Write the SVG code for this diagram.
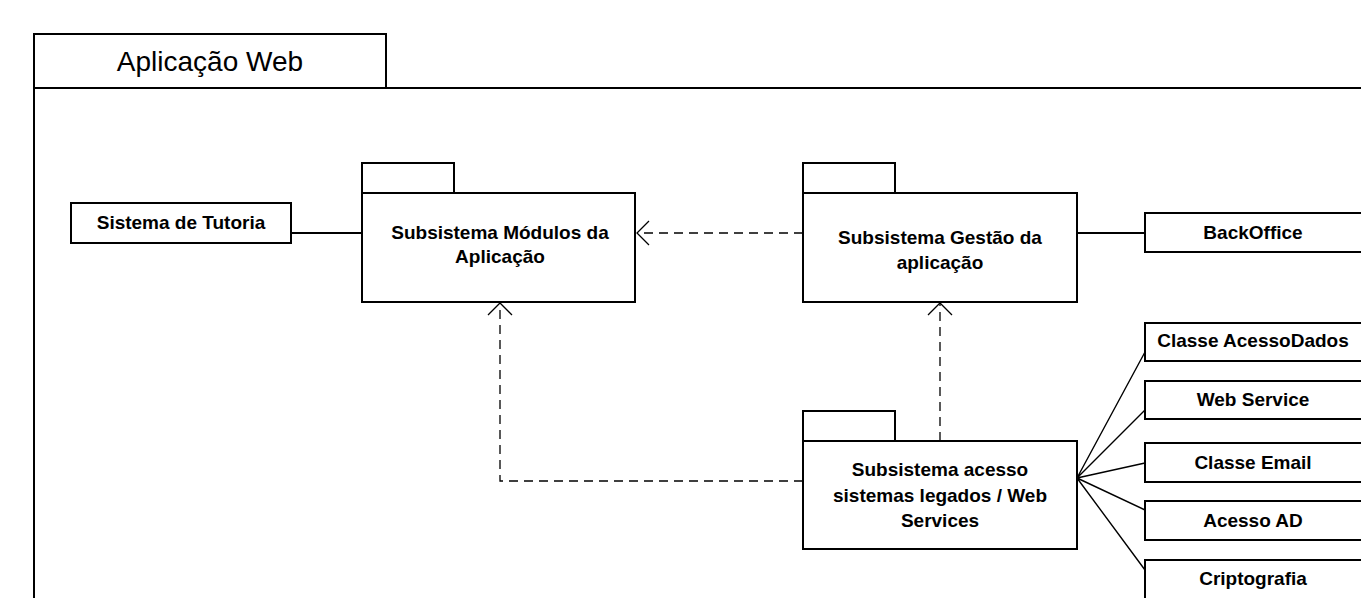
<svg xmlns="http://www.w3.org/2000/svg" width="1361" height="598" viewBox="0 0 1361 598">
<defs>
<style>
.box{fill:#fff;stroke:#000;stroke-width:2}
.t{font-family:"Liberation Sans",Arial,sans-serif;font-weight:bold;font-size:19px;text-anchor:middle;fill:#000}
.title{font-family:"Liberation Sans",Arial,sans-serif;font-size:28px;text-anchor:middle;fill:#000}
.solid{fill:none;stroke:#000;stroke-width:2}
.fan{fill:none;stroke:#000;stroke-width:1.4}
.dash{fill:none;stroke:#000;stroke-width:1.3;stroke-dasharray:9,6}
.head{fill:none;stroke:#000;stroke-width:1.3}
</style>
</defs>
<rect width="1361" height="598" fill="#fff"/>
<g id="frame">
<rect class="box" x="34" y="34" width="352" height="54"/>
<path class="solid" d="M34 88 H1363 M34 88 V600"/>
<text class="title" x="210" y="71">Aplicação Web</text>
</g>
<g id="connectors">
<line class="solid" x1="291" y1="233" x2="362" y2="233"/>
<line class="solid" x1="1077" y1="233" x2="1145" y2="233"/>
<line class="dash" x1="803" y1="233" x2="637" y2="233"/>
<path class="head" d="M649 221 L637 233 L649 245"/>
<line class="dash" x1="940" y1="441" x2="940" y2="303"/>
<path class="head" d="M928 315 L940 303 L952 315"/>
<polyline class="dash" points="803,481 500,481 500,303"/>
<path class="head" d="M488 315 L500 303 L512 315"/>
<path class="fan" d="M1077 478 L1145 352 M1077 478 L1145 410 M1077 478 L1145 463 M1077 478 L1145 510 M1077 478 L1145 570"/>
</g>
<g id="tutoria">
<rect class="box" x="71" y="203" width="220" height="40"/>
<text class="t" x="181" y="229">Sistema de Tutoria</text>
</g>
<g id="modulos">
<rect class="box" x="362" y="163" width="92" height="30"/>
<rect class="box" x="362" y="193" width="273" height="109"/>
<text class="t" x="500" y="239">Subsistema Módulos da</text>
<text class="t" x="500" y="263">Aplicação</text>
</g>
<g id="gestao">
<rect class="box" x="803" y="163" width="92" height="30"/>
<rect class="box" x="803" y="193" width="274" height="109"/>
<text class="t" x="940" y="244">Subsistema Gestão da</text>
<text class="t" x="940" y="269">aplicação</text>
</g>
<g id="acesso">
<rect class="box" x="803" y="411" width="92" height="30"/>
<rect class="box" x="803" y="441" width="274" height="108"/>
<text class="t" x="940" y="476">Subsistema acesso</text>
<text class="t" x="940" y="502">sistemas legados / Web</text>
<text class="t" x="940" y="527">Services</text>
</g>
<g id="backoffice">
<rect class="box" x="1145" y="213" width="220" height="39"/>
<text class="t" x="1253" y="239">BackOffice</text>
</g>
<g id="acessodados">
<rect class="box" x="1145" y="323" width="220" height="38"/>
<text class="t" x="1253" y="347">Classe AcessoDados</text>
</g>
<g id="webservice">
<rect class="box" x="1145" y="381" width="220" height="38"/>
<text class="t" x="1253" y="406">Web Service</text>
</g>
<g id="email">
<rect class="box" x="1145" y="443" width="220" height="39"/>
<text class="t" x="1253" y="469">Classe Email</text>
</g>
<g id="acessoad">
<rect class="box" x="1145" y="501" width="220" height="39"/>
<text class="t" x="1253" y="527">Acesso AD</text>
</g>
<g id="cripto">
<rect class="box" x="1145" y="560" width="220" height="45"/>
<text class="t" x="1253" y="585">Criptografia</text>
</g>
</svg>
